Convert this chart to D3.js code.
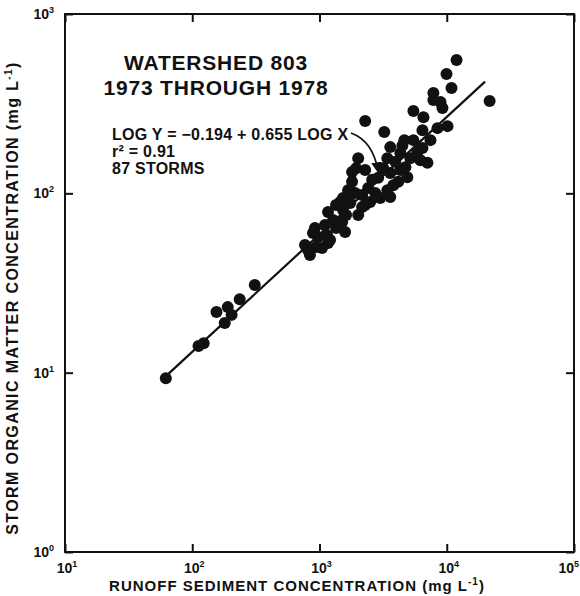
<!DOCTYPE html>
<html>
<head>
<meta charset="utf-8">
<script src="https://cdn.jsdelivr.net/npm/d3@7"></script>
<style>
  html, body { margin: 0; padding: 0; background: #fff; }
  svg { display: block; }
  text { font-family: "Liberation Sans", Arial, Helvetica, sans-serif; fill: #111; }
</style>
</head>
<body>
<svg id="chart" width="580" height="596"></svg>
<script>
// ---- data (mg/L) ----
const sedimentX = [62,112,123,155,180,190,204,236,310,769,841,938,1047,1167,889,921,1146,1167,1279,1452,
  1531,1507,2014,2163,1905,1803,1803,2014,2285,2414,2742,3000,3412,2502,3597,3412,3597,4315,4315,4898,
  4159,5875,7047,5470,7447,4732,11940,9954,10900,7852,7852,8933,9250,21730,5470,6561,10140,8453,6442,3228,
  4477,2285,1742,2163,3597,1211,1349,1618,1742,2594,2893,3170,3945,5176,6209,1349,973,1589,2285,1941,
  3802,4645,6442,811,1105,1679,1531];
const organicY = [9.3,14.1,14.6,21.8,18.9,23.2,21.0,25.7,30.8,51.5,45.3,50.2,49.5,52.8,60.1,64.0,58.5,78.7,71.0,89.4,
  80.7,69.2,75.7,83.9,100.4,116,131.5,157,135,107,100.4,94.1,104,89.4,181,157,130,168,135,123,
  116,170,148,198,198,140,554,463,387,363,331,323,299,327,288,266,237,231,225,220,
  184,253,102,97.8,95.4,54.9,64.0,75.7,88.3,119,122,138,150,157,153,86.1,57.0,60.8,86.1,138,
  111,198,179,48.3,66.6,104,94.1];
const xTickVals = [1e1, 1e2, 1e3, 1e4, 1e5];
const xTickExps = ["1", "2", "3", "4", "5"];
const yTickVals = [1e0, 1e1, 1e2, 1e3];
const yTickExps = ["0", "1", "2", "3"];
const fitIntercept = -0.194;
const fitSlope = 0.655;
const fitRange = [60, 20000];
const titleLines = ["WATERSHED 803", "1973 THROUGH 1978"];
const statLines = ["LOG Y = \u22120.194 + 0.655 LOG X", "r\u00B2 = 0.91", "87 STORMS"];

const svg = d3.select("#chart");
const x = d3.scaleLog().domain([10, 1e5]).range([65, 574]);
const y = d3.scaleLog().domain([1, 1000]).range([552, 14]);

// frame
svg.append("rect")
  .attr("x", x(10)).attr("y", y(1000))
  .attr("width", x(1e5) - x(10)).attr("height", y(1) - y(1000))
  .attr("fill", "none").attr("stroke", "#111").attr("stroke-width", 2);

// inward ticks via axes
const tl = 8;
svg.append("g").attr("transform", `translate(0,${y(1)})`)
  .call(d3.axisTop(x).tickValues(xTickVals).tickSize(tl).tickFormat(""))
  .call(g => g.select(".domain").remove());
svg.append("g").attr("transform", `translate(0,${y(1000)})`)
  .call(d3.axisBottom(x).tickValues(xTickVals).tickSize(tl).tickFormat(""))
  .call(g => g.select(".domain").remove());
svg.append("g").attr("transform", `translate(${x(10)},0)`)
  .call(d3.axisRight(y).tickValues(yTickVals).tickSize(tl).tickFormat(""))
  .call(g => g.select(".domain").remove());
svg.append("g").attr("transform", `translate(${x(1e5)},0)`)
  .call(d3.axisLeft(y).tickValues(yTickVals).tickSize(tl).tickFormat(""))
  .call(g => g.select(".domain").remove());
svg.selectAll(".tick line").attr("stroke", "#111").attr("stroke-width", 2);

// tick labels
xTickVals.forEach((v, i) => {
  const last = i === xTickVals.length - 1;
  const t = svg.append("text").attr("x", last ? 579 : x(v) + 2).attr("y", 573)
    .attr("text-anchor", last ? "end" : "middle").attr("font-size", 14).attr("font-weight", "bold");
  t.append("tspan").text("10");
  t.append("tspan").attr("dy", -6).attr("font-size", 9).text(xTickExps[i]);
});
yTickVals.forEach((v, i) => {
  const t = svg.append("text").attr("x", 54).attr("y", y(v) + 5)
    .attr("text-anchor", "end").attr("font-size", 14).attr("font-weight", "bold");
  t.append("tspan").text("10");
  t.append("tspan").attr("dy", -6).attr("font-size", 9).text(yTickExps[i]);
});

// axis titles
const xt = svg.append("text").attr("x", 297).attr("y", 591)
  .attr("text-anchor", "middle").attr("font-size", 15).attr("font-weight", "bold")
  .attr("letter-spacing", 1.0);
xt.append("tspan").text("RUNOFF SEDIMENT CONCENTRATION (mg L");
xt.append("tspan").attr("dy", -6).attr("font-size", 10).text("-1");
xt.append("tspan").attr("dy", 6).text(")");

const yt = svg.append("text").attr("transform", "translate(18,298) rotate(-90)")
  .attr("text-anchor", "middle").attr("font-size", 16).attr("font-weight", "bold")
  .attr("letter-spacing", 1.4);
yt.append("tspan").text("STORM ORGANIC MATTER CONCENTRATION (mg L");
yt.append("tspan").attr("dy", -6).attr("font-size", 10).text("-1");
yt.append("tspan").attr("dy", 6).text(")");

// regression line
const fit = v => Math.pow(10, fitIntercept + fitSlope * Math.log10(v));
svg.append("line")
  .attr("x1", x(fitRange[0])).attr("y1", y(fit(fitRange[0])))
  .attr("x2", x(fitRange[1])).attr("y2", y(fit(fitRange[1])))
  .attr("stroke", "#111").attr("stroke-width", 2.2);

// points
svg.append("g").selectAll("circle")
  .data(sedimentX.map((v, i) => [v, organicY[i]]))
  .join("circle")
  .attr("cx", d => x(d[0])).attr("cy", d => y(d[1]))
  .attr("r", 6).attr("fill", "#111");

// titles
titleLines.forEach((s, i) => {
  svg.append("text").attr("x", 216).attr("y", 70 + i * 25)
    .attr("text-anchor", "middle").attr("font-size", 21).attr("font-weight", "bold")
    .attr("letter-spacing", 0.8).text(s);
});
statLines.forEach((s, i) => {
  svg.append("text").attr("x", 112).attr("y", 140 + i * 17)
    .attr("font-size", 16).attr("font-weight", "bold")
    .attr("letter-spacing", 0.25).text(s);
});

// arrow
const defs = svg.append("defs");
defs.append("marker").attr("id", "ah").attr("viewBox", "0 0 10 10")
  .attr("refX", 8).attr("refY", 5).attr("markerWidth", 6).attr("markerHeight", 6)
  .attr("orient", "auto")
  .append("path").attr("d", "M0,0 L10,5 L0,10 Z").attr("fill", "#111");
svg.append("path")
  .attr("d", "M351,133 Q373,141 378,171")
  .attr("fill", "none").attr("stroke", "#111").attr("stroke-width", 1.8)
  .attr("marker-end", "url(#ah)");
</script>
</body>
</html>
